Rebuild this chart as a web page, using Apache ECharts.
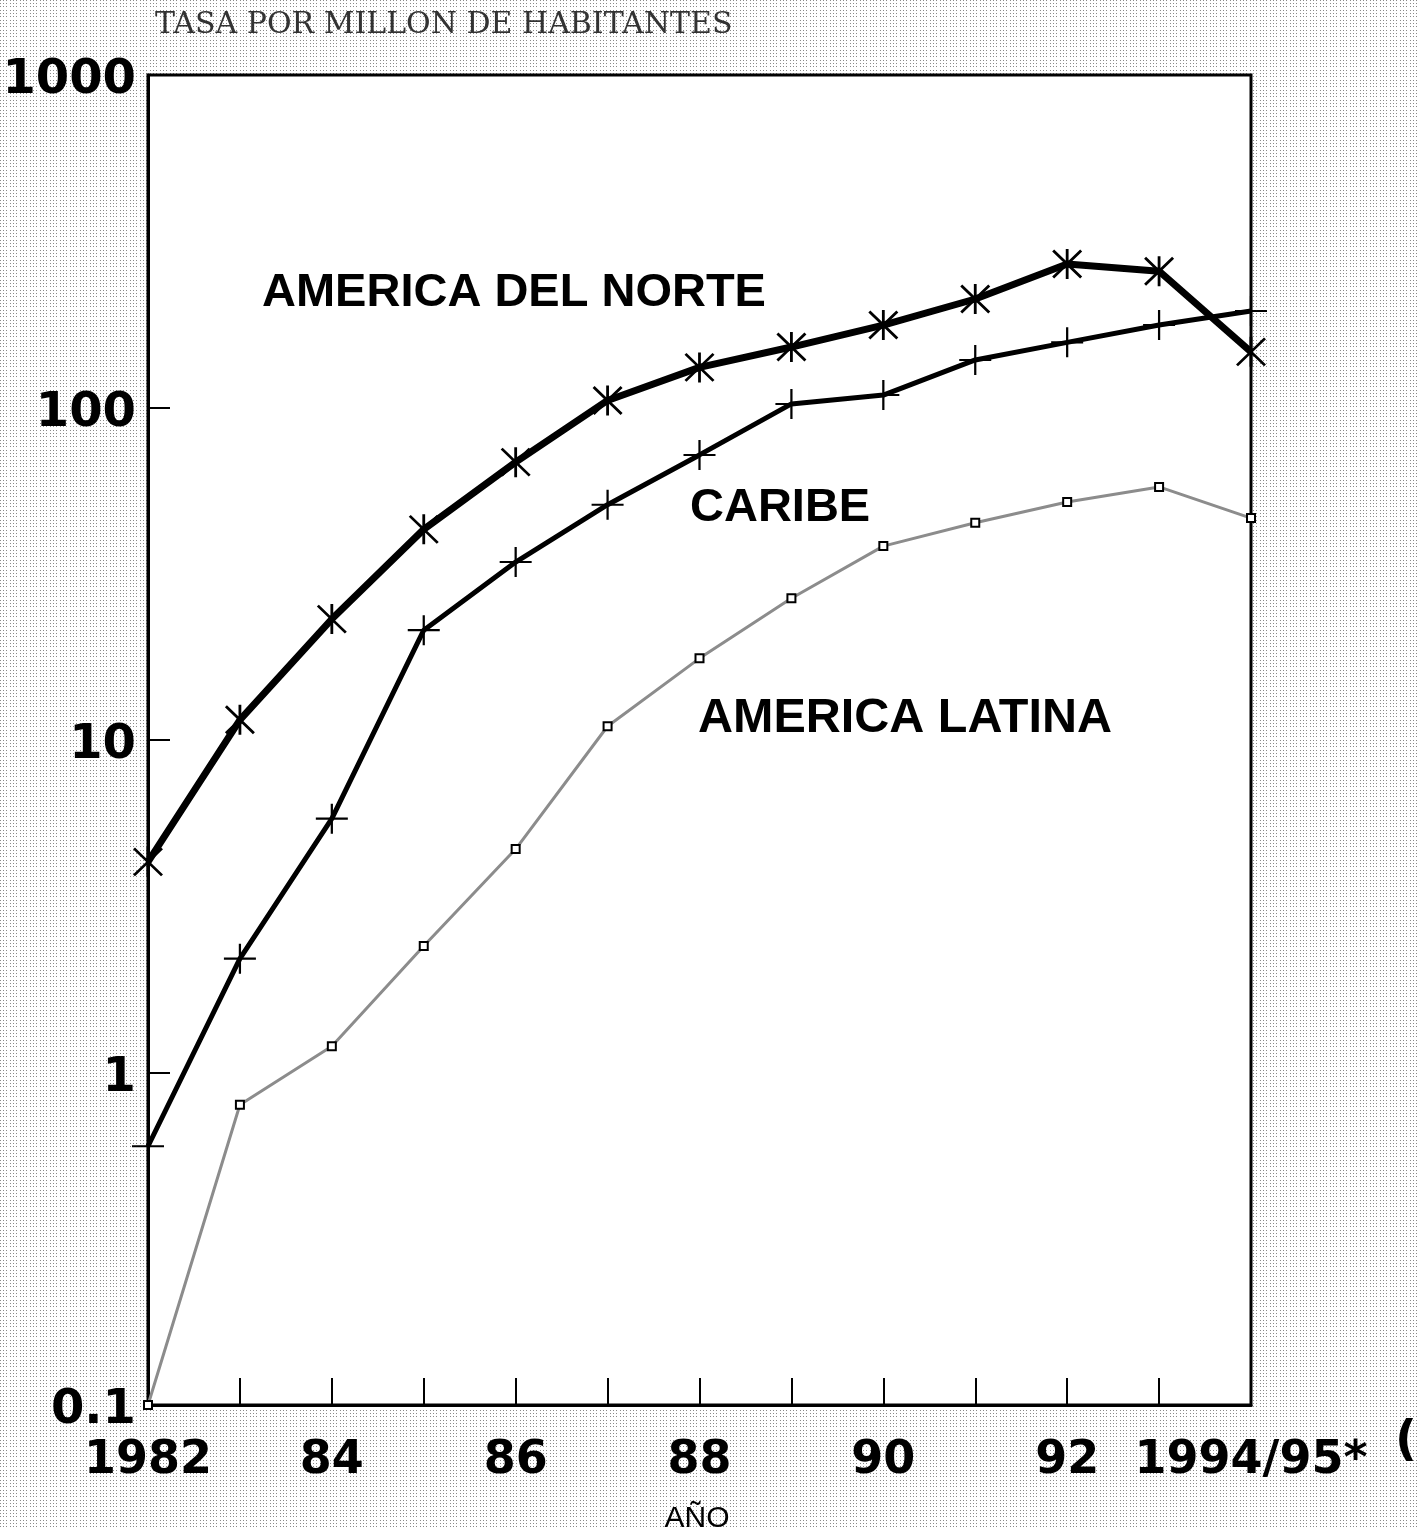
<!DOCTYPE html>
<html>
<head>
<meta charset="utf-8">
<title>Tasa por millón de habitantes</title>
<script src="https://cdn.jsdelivr.net/npm/echarts@6/dist/echarts.min.js"></script>
<style>
  html, body { margin: 0; padding: 0; }
  body {
    width: 1419px; height: 1529px; overflow: hidden;
    background-color: #fff;
    background-image: url("data:image/svg+xml;utf8,<svg xmlns='http://www.w3.org/2000/svg' width='10' height='10'><g fill='%23888'><rect x='0' y='0' width='1' height='1'/><rect x='3' y='0' width='1' height='1'/><rect x='6' y='0' width='1' height='1'/><rect x='0' y='3' width='1' height='1'/><rect x='3' y='3' width='1' height='1'/><rect x='6' y='3' width='1' height='1'/><rect x='0' y='6' width='1' height='1'/><rect x='3' y='6' width='1' height='1'/><rect x='6' y='6' width='1' height='1'/></g></svg>");
    background-size: 10px 10px;
  }
  #chart { width: 1419px; height: 1529px; }
</style>
</head>
<body>
<div id="chart"></div>
<script>
// Years on the horizontal axis (the last point covers 1994/95, provisional)
const years = ['1982', '1983', '1984', '1985', '1986', '1987', '1988',
               '1989', '1990', '1991', '1992', '1993', '1994/95*'];

// Rate per million inhabitants
const americaDelNorte = [4.3, 11.5, 23.1, 43, 68.5, 105, 132, 152, 177, 212, 270, 257, 147];
const caribe          = [0.6, 2.2, 5.8, 21.4, 34.3, 51, 72, 102.5, 109, 139, 157, 177, 195];
const americaLatina   = [0.1, 0.8, 1.2, 2.4, 4.7, 11, 17.6, 26.7, 38.3, 45, 52, 57.7, 46.5];

// Labels printed under the even years
const yearLabels = { '1982': '1982', '1984': '84', '1986': '86', '1988': '88',
                     '1990': '90', '1992': '92', '1994/95*': '1994/95*' };

const seriesNames = ['AMERICA DEL NORTE', 'CARIBE', 'AMERICA LATINA'];

// Marker shapes: six-armed asterisk and a thin cross
const asteriskPath = 'path://M45.5,0L54.5,0L54.5,100L45.5,100Z' +
  'M8.2,1.8L98.2,91.8L91.8,98.2L1.8,8.2Z' +
  'M98.2,8.2L8.2,98.2L1.8,91.8L91.8,1.8Z';
const crossPath = 'path://M46.5,0L53.5,0L53.5,100L46.5,100Z' +
  'M0,46.5L100,46.5L100,53.5L0,53.5Z';

const chart = echarts.init(document.getElementById('chart'), null, { renderer: 'canvas' });

const boldSans = 'Liberation Sans, Arial, Helvetica, sans-serif';
const tickFont = 'DejaVu Sans, Verdana, sans-serif';

chart.setOption({
  backgroundColor: 'transparent',
  animation: false,
  grid: {
    left: 148, right: 168, top: 75, bottom: 124,
    containLabel: false,
    outerBoundsMode: 'none',
    show: true, backgroundColor: '#fff',
    borderColor: '#000', borderWidth: 3
  },
  xAxis: {
    type: 'category',
    data: years,
    boundaryGap: false,
    axisLine: { lineStyle: { color: '#000', width: 3 } },
    axisTick: { inside: true, length: 27, interval: 0, lineStyle: { color: '#000', width: 2 } },
    axisLabel: {
      interval: 1,
      margin: 33,
      color: '#000',
      fontFamily: tickFont,
      fontWeight: 'bold',
      fontSize: 46,
      formatter: v => yearLabels[v] || ''
    },
    splitLine: { show: false }
  },
  yAxis: {
    type: 'log',
    logBase: 10,
    min: 0.1,
    max: 1000,
    axisLine: { show: true, lineStyle: { color: '#000', width: 3 } },
    axisTick: { show: true, inside: true, length: 22, lineStyle: { color: '#000', width: 2 } },
    axisLabel: {
      margin: 12,
      color: '#000',
      fontFamily: tickFont,
      fontWeight: 'bold',
      fontSize: 48,
      formatter: v => '{v|' + (v < 1 ? String(+v.toFixed(1)) : String(Math.round(v))) + '}',
      rich: {
        v: {
          padding: [12, 0, 0, 0],
          color: '#000',
          fontFamily: tickFont,
          fontWeight: 'bold',
          fontSize: 48
        }
      }
    },
    splitLine: { show: false },
    minorTick: { show: false }
  },
  series: [
    {
      name: seriesNames[0],
      type: 'line',
      data: americaDelNorte,
      symbol: asteriskPath,
      symbolSize: 30,
      showAllSymbol: true,
      itemStyle: { color: '#000' },
      lineStyle: { color: '#000', width: 7 },
      z: 4
    },
    {
      name: seriesNames[1],
      type: 'line',
      data: caribe,
      symbol: crossPath,
      symbolSize: [32, 30],
      showAllSymbol: true,
      itemStyle: { color: '#000' },
      lineStyle: { color: '#000', width: 5 },
      z: 3
    },
    {
      name: seriesNames[2],
      type: 'line',
      data: americaLatina,
      symbol: 'rect',
      symbolSize: 8,
      showAllSymbol: true,
      itemStyle: { color: '#fff', borderColor: '#000', borderWidth: 2 },
      lineStyle: { color: '#8c8c8c', width: 3 },
      z: 2
    }
  ],
  graphic: [
    {
      type: 'text', left: 155, top: 10,
      style: { text: 'TASA POR MILLON DE HABITANTES', fill: '#333',
               font: '30px "DejaVu Serif", "Liberation Serif", serif' }
    },
    {
      type: 'text', x: 262, y: 293,
      style: { text: seriesNames[0], fill: '#000', textVerticalAlign: 'middle',
               font: 'bold 47px ' + boldSans }
    },
    {
      type: 'text', x: 690, y: 508,
      style: { text: seriesNames[1], fill: '#000', textVerticalAlign: 'middle',
               font: 'bold 47px ' + boldSans }
    },
    {
      type: 'text', x: 698, y: 719,
      style: { text: seriesNames[2], fill: '#000', textVerticalAlign: 'middle',
               font: 'bold 48.5px ' + boldSans }
    },
    {
      type: 'text', x: 697, y: 1519,
      style: { text: 'AÑO', fill: '#000', textAlign: 'center', textVerticalAlign: 'middle',
               font: '30px ' + boldSans }
    },
    {
      type: 'text', x: 1395, y: 1443,
      style: { text: '(', fill: '#000', textVerticalAlign: 'middle',
               font: 'bold 48px ' + tickFont }
    }
  ]
});
</script>
</body>
</html>
